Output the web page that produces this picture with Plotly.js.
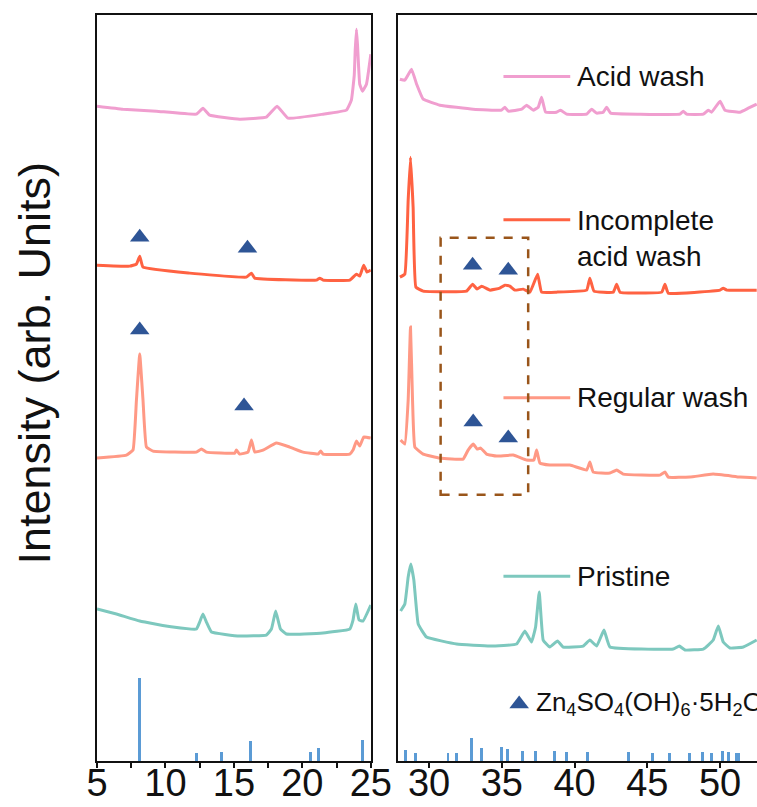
<!DOCTYPE html>
<html>
<head>
<meta charset="utf-8">
<script src="https://cdn.plot.ly/plotly-3.0.1.min.js"></script>
<style>html,body{margin:0;padding:0;background:#fff;}#chart{width:757px;height:807px;}</style>
</head>
<body>
<div id="chart"></div>
<script>
// ---- Data (2θ in degrees, intensity in arbitrary units, curves already stacked) ----
const seriesNames = ["Acid wash", "Incomplete<br>acid wash", "Regular wash", "Pristine"];
const seriesColors = ["#F09ECF", "#FF6242", "#FF9985", "#7DC8BE"];

const acidX = [5.00,6.90,9.34,12.26,12.74,13.23,15.42,17.37,18.15,18.95,21.51,23.22,23.58,23.79,23.86,23.95,24.03,24.19,24.39,24.68,25.00,
  27.99,28.33,28.79,29.14,29.59,30.74,33.03,34.98,35.21,35.44,36.36,36.70,37.15,37.50,37.73,38.01,38.76,39.04,39.45,40.83,41.17,41.52,41.97,42.20,42.48,44.49,47.24,47.47,47.70,48.85,49.19,49.42,50.00,50.34,51.37,51.94,52.52];
const acidY = [655,652,650,647,653,646,642,644,655,643,647,651,661,686,711,732,716,677,670,677,707,
  682,681,692,677,662,656,652,651,654,650,652,656,651,654,664,649,649,651,647,647,652,648,649,654,648,647,647,650,647,647,651,649,660,651,649,653,657];

const incompleteX = [5.00,7.39,7.88,8.12,8.36,11.77,15.91,16.28,16.52,21.03,21.27,21.51,23.46,23.95,24.19,24.48,24.72,25.00,
  27.99,28.33,28.56,28.72,28.90,29.09,29.59,32.57,32.99,33.30,33.61,34.18,34.86,35.21,35.55,35.90,36.47,36.93,37.46,37.73,38.76,40.83,41.05,41.33,42.66,42.89,43.12,45.99,46.21,46.44,50.00,50.22,50.46,52.52];
const incompleteY = [496,495,497,505,494,488,484,488,483,481,483,481,481,487,485,496,489,491,
  484,487,561,604,554,474,470,470,477,472,475,471,473,476,475,471,472,469,487,469,469,471,483,470,469,477,469,469,477,468,471,473,471,471];

const regularX = [5.00,7.15,7.63,7.88,8.12,8.36,8.61,9.09,12.26,12.63,12.99,15.06,15.18,15.42,16.03,16.28,16.52,17.13,18.10,19.08,20.05,21.14,21.34,21.51,23.46,23.70,23.95,24.19,24.48,25.00,
  28.04,28.33,28.56,28.72,28.86,29.02,29.59,30.74,32.34,32.68,33.03,33.30,33.54,33.95,34.64,35.78,36.70,37.20,37.39,37.62,38.30,39.68,40.83,41.05,41.28,42.43,42.89,43.34,45.87,46.21,46.44,47.93,49.53,51.37,52.52];
const regularY = [303,306,311,361,407,361,314,310,309,312,309,308,311,307,309,321,309,311,318,314,309,307,310,307,307,311,320,315,324,323,
  321,317,361,434,361,314,307,303,302,311,317,312,313,307,305,306,301,301,311,298,296,296,291,299,289,288,291,287,286,289,284,284,287,284,283];

const pristineX = [5.00,6.42,8.12,10.55,12.26,12.50,12.74,12.99,13.36,15.42,17.37,17.74,18.05,18.40,18.83,21.51,23.46,23.70,23.90,24.14,24.43,25.00,
  28.04,28.33,28.56,28.74,28.95,29.25,29.82,31.89,34.18,36.01,36.58,37.04,37.32,37.57,37.84,38.30,38.83,39.22,40.59,41.05,41.52,42.02,42.43,46.78,47.20,47.59,48.85,49.19,49.53,49.88,50.22,50.68,51.60,52.52];
const pristineY = [152,147,140,134,132,139,147,139,129,125,126,132,150,132,127,128,132,141,157,141,140,156,
  150,157,184,197,181,137,124,117,115,117,130,119,134,169,121,114,120,114,115,121,115,131,114,112,115,111,112,116,121,135,119,113,114,121];

// Zn4SO4(OH)6·5H2O peak markers
const markerX = [8.12,15.99,8.12,15.74,32.99,35.44,33.03,35.44];
const markerY = [524,513,431,355,496,491,339,323];

// Reference stick pattern (2θ, relative height)
const refX = [8.1,12.3,14.1,16.2,20.6,21.2,24.4,
  28.39,29.06,31.30,31.88,32.91,33.60,34.97,35.38,36.39,37.33,38.64,39.44,40.88,43.68,45.33,46.55,47.88,48.80,49.42,50.15,50.60,51.13,51.30];
const refH = [83,8,9,20,9,13,21,
  11,8,8,8,23,13,14,12,10,10,10,9,9,9,8,8,8,9,8,10,9,8,8];

const leftTicks = [5,10,15,20,25];
const rightTicks = [30,35,40,45,50];
const refLabel = "Zn<sub>4</sub>SO<sub>4</sub>(OH)<sub>6</sub>·5H<sub>2</sub>O";
const yTitle = "Intensity (arb. Units)";

// ---- Build traces ----
const allSeries = [[acidX, acidY], [incompleteX, incompleteY], [regularX, regularY], [pristineX, pristineY]];
const FONT = "Liberation Sans, Arial, Helvetica, sans-serif";
const split = 26.5;
const traces = [];

allSeries.forEach(([xs, ys], i) => {
  const lx = [], ly = [], rx = [], ry = [];
  xs.forEach((x, k) => { if (x < split) { lx.push(x); ly.push(ys[k]); } else { rx.push(x); ry.push(ys[k]); } });
  const line = {color: seriesColors[i], width: 3, shape: 'spline', smoothing: 0.3};
  traces.push({x: lx, y: ly, type: 'scatter', mode: 'lines', line, xaxis: 'x', yaxis: 'y', showlegend: false, hoverinfo: 'skip'});
  traces.push({x: rx, y: ry, type: 'scatter', mode: 'lines', line, xaxis: 'x2', yaxis: 'y2', showlegend: false, hoverinfo: 'skip'});
});

// reference sticks
const rlx = [], rly = [], rrx = [], rry = [];
refX.forEach((x, k) => { if (x < split) { rlx.push(x); rly.push(refH[k]); } else { rrx.push(x); rry.push(refH[k]); } });
traces.push({x: rlx, y: rly, type: 'bar', width: 0.22, marker: {color: '#5B9BD5'}, xaxis: 'x', yaxis: 'y', showlegend: false, hoverinfo: 'skip'});
traces.push({x: rrx, y: rry, type: 'bar', width: 0.2, marker: {color: '#5B9BD5'}, xaxis: 'x2', yaxis: 'y2', showlegend: false, hoverinfo: 'skip'});

// triangles
const mlx = [], mly = [], mrx = [], mry = [];
markerX.forEach((x, k) => { if (x < split) { mlx.push(x); mly.push(markerY[k]); } else { mrx.push(x); mry.push(markerY[k]); } });
const tri = {symbol: 'triangle-up', size: 17, color: '#2E5596'};
traces.push({x: mlx, y: mly, type: 'scatter', mode: 'markers', marker: tri, xaxis: 'x', yaxis: 'y', showlegend: false, hoverinfo: 'skip', cliponaxis: false});
traces.push({x: mrx, y: mry, type: 'scatter', mode: 'markers', marker: tri, xaxis: 'x2', yaxis: 'y2', showlegend: false, hoverinfo: 'skip', cliponaxis: false});
// legend triangle for reference phase
traces.push({x: [36.19], y: [57], type: 'scatter', mode: 'markers', marker: tri, xaxis: 'x2', yaxis: 'y2', showlegend: false, hoverinfo: 'skip'});

// ---- Layout ----
const W = 757, H = 807;
const mL = 97.3, mR = 0, mT = 14.5, mB = 46.3;
const plotW = W - mL - mR;
const pxToDomain = px => (px - mL) / plotW;
const yRange = [0, 746.2];

const legendY = [684.7, 522.8, 363.4, 184.7];
const legendLineY = [684.7, 541.4, 363.4, 184.7];

const shapes = [];
const annotations = [];
seriesNames.forEach((name, i) => {
  shapes.push({type: 'line', xref: 'x2', yref: 'y2', x0: 35.11, x1: 39.7, y0: legendLineY[i], y1: legendLineY[i],
    line: {color: seriesColors[i], width: 3}});
  annotations.push({xref: 'x2', yref: 'y2', x: 40.0, y: legendY[i], text: name, showarrow: false,
    xanchor: 'left', yanchor: 'middle', align: 'left', font: {family: FONT, size: 28, color: '#111'}});
});
// dashed highlight box
shapes.push({type: 'rect', xref: 'x2', yref: 'y2', x0: 30.79, x1: 36.81, y0: 266.4, y1: 523.4,
  line: {color: '#99551A', width: 2.5, dash: 'dash'}});

annotations.push({xref: 'x2', yref: 'y2', x: 37.2, y: 58, text: refLabel, showarrow: false,
  xanchor: 'left', yanchor: 'middle', font: {family: FONT, size: 26, color: '#111'}});
annotations.push({xref: 'paper', yref: 'paper', x: (35 - mL) / plotW, y: (760.7 - 362.5) / 746.2, text: yTitle,
  textangle: -90, showarrow: false, xanchor: 'center', yanchor: 'middle', font: {family: FONT, size: 45, color: '#111'}});

const axisCommon = {showgrid: false, zeroline: false, showline: true, linecolor: '#111', linewidth: 2,
  ticks: 'outside', ticklen: 5, tickwidth: 2, tickcolor: '#111', ticklabelstandoff: -18,
  tickfont: {family: FONT, size: 38, color: '#111'}, fixedrange: true};

const layout = {
  width: W, height: H,
  margin: {l: mL, r: mR, t: mT, b: mB, pad: 0},
  paper_bgcolor: '#fff', plot_bgcolor: '#fff',
  showlegend: false,
  bargap: 0,
  xaxis: Object.assign({}, axisCommon, {domain: [0, pxToDomain(371)], range: [5, 25], tickmode: 'array', tickvals: leftTicks,
    ticktext: leftTicks.map(String), mirror: true, anchor: 'y', minor: {dtick: 2.5, tick0: 5, ticks: 'outside', ticklen: 5, tickwidth: 2, tickcolor: '#111'}}),
  xaxis2: Object.assign({}, axisCommon, {domain: [pxToDomain(398.3), 1], range: [27.87, 52.54], tickmode: 'array', tickvals: rightTicks,
    ticktext: rightTicks.map(String), mirror: true, anchor: 'y2'}),
  yaxis: {domain: [0, 1], range: yRange, showgrid: false, zeroline: false, showline: true, linecolor: '#111', linewidth: 2,
    mirror: true, ticks: '', showticklabels: false, anchor: 'x', fixedrange: true},
  yaxis2: {domain: [0, 1], range: yRange, showgrid: false, zeroline: false, showline: true, linecolor: '#111', linewidth: 2,
    mirror: false, ticks: '', showticklabels: false, anchor: 'x2', fixedrange: true},
  shapes, annotations,
  font: {family: FONT, color: '#111'}
};

Plotly.newPlot('chart', traces, layout, {staticPlot: true, displayModeBar: false});
</script>
</body>
</html>
